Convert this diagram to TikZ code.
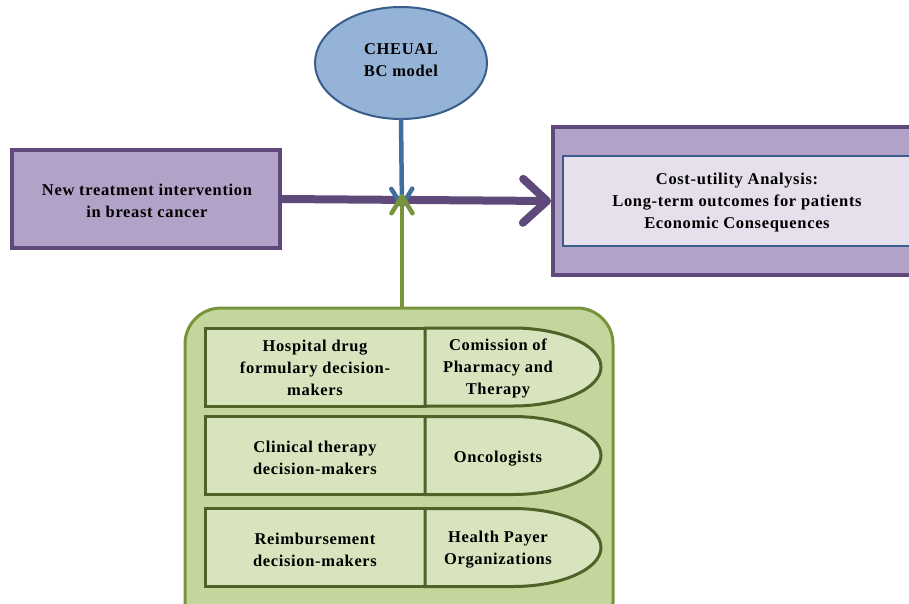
\documentclass[tikz,border=0pt]{standalone}
\usepackage{fontspec}
\setmainfont{Liberation Serif}[LetterSpace=4]
\usetikzlibrary{arrows.meta,shapes.geometric}
\definecolor{purpfill}{HTML}{B3A2C7}
\definecolor{purpline}{HTML}{5F497A}
\definecolor{lavfill}{HTML}{E6E0EC}
\definecolor{navyline}{HTML}{385D8A}
\definecolor{bluefill}{HTML}{95B3D7}
\definecolor{bluearrow}{HTML}{3F6E9F}
\definecolor{grnfill}{HTML}{C3D69B}
\definecolor{grnline}{HTML}{77933C}
\definecolor{cellfill}{HTML}{D7E4BD}
\definecolor{cellline}{HTML}{4F6228}
\tikzset{
  txt/.style={font=\fontsize{16.5}{22}\selectfont\bfseries, align=center, text=black},
  purpbox/.style={draw=purpline, fill=purpfill, line width=4pt, inner sep=0pt},
  innerbox/.style={draw=navyline, fill=lavfill, line width=2.5pt, inner sep=0pt},
  modelnode/.style={ellipse, draw=navyline, fill=bluefill, line width=2pt, inner sep=0pt,
    minimum width=172pt, minimum height=112pt},
  grpbox/.style={draw=grnline, fill=grnfill, line width=3pt, rounded corners=36pt, inner sep=0pt},
  cellbox/.style={draw=cellline, fill=cellfill, line width=3pt, inner sep=0pt, outer sep=0pt,
    minimum width=220pt, minimum height=78pt},
  cellend/.style={draw=cellline, fill=cellfill, line width=3pt, line join=miter},
  flow/.style={line width=8pt, color=purpline, line cap=round,
    -{Straight Barb[length=24pt, width=44pt, line cap=round, line join=round]}},
  inarrow/.style={line width=4.5pt, line cap=round,
    -{Straight Barb[length=17pt, width=21pt, line cap=round, line join=round]}},
}
\begin{document}
\begin{tikzpicture}[x=1pt, y=-1pt]
\useasboundingbox (0,0) rectangle (909,603);
\clip (0,0) rectangle (909,603);

% model ellipse
\node[modelnode] (model) at (401,63) {};
\node[txt] (modeltxt) at (401,60) {CHEUAL\\BC model};

% intervention box
\node[purpbox, minimum width=268pt, minimum height=98pt] (newt) at (146,199) {};
\node[txt] (newttxt) at (147,201) {New treatment intervention\\in breast cancer};

% outcome boxes
\node[purpbox, minimum width=372pt, minimum height=148pt] (outer) at (739,201) {};
\node[innerbox, minimum width=362pt, minimum height=90pt] (inner) at (744,201) {};
\node[txt] (cua) at (737,203) {Cost-utility Analysis:\\Long-term outcomes for patients\\Economic Consequences};

% decision-maker group
\node[grpbox, minimum width=428pt, minimum height=330pt] (grp) at (399,473) {};

% rows: left rectangle + delay-shaped right end
\foreach \r/\y in {1/367, 2/455.5, 3/547.5} {
  \node[cellbox] (c\r) at (315,\y) {};
  \draw[cellend] (c\r.north east) -- ++(88,0)
    arc[start angle=-90, end angle=90, x radius=88, y radius=39]
    -- (c\r.south east) -- cycle;
}
\node[txt] (c1t) at (315,368) {Hospital drug\\formulary decision-\\makers};
\node[txt] (d1t) at (498,368) {Comission of\\Pharmacy and\\Therapy};
\node[txt] (c2t) at (315,458) {Clinical therapy\\decision-makers};
\node[txt] (d2t) at (498,459) {Oncologists};
\node[txt] (c3t) at (315,550) {Reimbursement\\decision-makers};
\node[txt] (d3t) at (498,550) {Health Payer\\Organizations};

% connectors
\coordinate (cross) at (402,201);
\draw[flow] (newt.east) -- (outer.west);
\draw[inarrow, bluearrow] (model.south) -- ([yshift=-7pt]cross);
\draw[inarrow, grnline] (grp.north -| cross) -- ([yshift=7pt]cross);
\end{tikzpicture}
\end{document}
